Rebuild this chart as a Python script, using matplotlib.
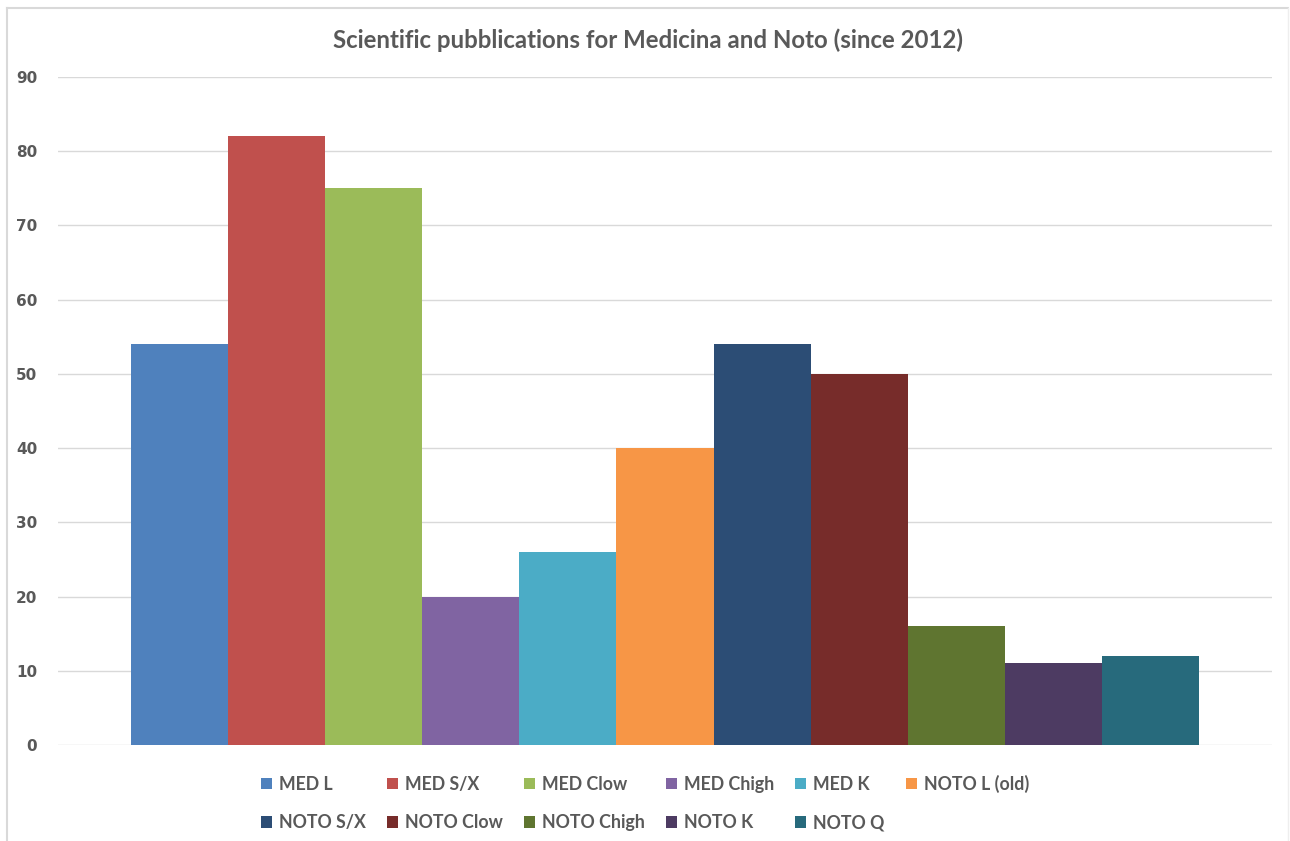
import matplotlib.pyplot as plt
from matplotlib.lines import Line2D

# data
series = ["MED L", "MED S/X", "MED Clow", "MED Chigh", "MED K", "NOTO L (old)",
          "NOTO S/X", "NOTO Clow", "NOTO Chigh", "NOTO K", "NOTO Q"]
values = [54, 82, 75, 20, 26, 40, 54, 50, 16, 11, 12]
colors = ["#4F81BD", "#C0504D", "#9BBB59", "#8064A2", "#4BACC6", "#F79646",
          "#2C4D75", "#772C2A", "#5F7530", "#4D3B62", "#276A7C"]
yticks = [0, 10, 20, 30, 40, 50, 60, 70, 80, 90]

W, H = 1290, 841
fig = plt.figure(figsize=(W / 100, H / 100), dpi=100)
ax = fig.add_axes([58 / W, 96 / H, (1272 - 58) / W, 668 / H])

bars = []
for i, (name, v, c) in enumerate(zip(series, values, colors)):
    b = ax.bar(i, v, width=1.0, color=c, label=name, zorder=3)
    bars.append(b)

ax.set_xlim(-1.25, len(series) - 1 + 1.25)
ax.set_ylim(0, 90)
ax.set_yticks(yticks)
ax.yaxis.grid(True, color="#D9D9D9", linewidth=1, zorder=0)
ax.set_xticks([])
for s in ax.spines.values():
    s.set_visible(False)
ax.tick_params(axis="y", length=0, pad=15, labelcolor="#595959")
for lbl in ax.get_yticklabels():
    lbl.set_fontfamily("DejaVu Sans")
    lbl.set_fontweight("bold")
    lbl.set_fontsize(11)

fig.text(648 / W, 1 - 40 / H, "Scientific pubblications for Medicina and Noto (since 2012)",
         ha="center", va="center", fontsize=17.3, fontweight="bold",
         family="Lato", color="#595959")

# legend: row-major order with 6 columns
order = [0, 6, 1, 7, 2, 8, 3, 9, 4, 10, 5]
leg = fig.legend([bars[i] for i in order], [series[i] for i in order],
                 ncol=6, loc="center", bbox_to_anchor=(645 / W, 1 - 803 / H),
                 frameon=False, handlelength=0.6, handleheight=0.6,
                 handletextpad=0.4, columnspacing=1.2, labelspacing=1.2,
                 prop={"family": "Lato", "weight": "bold", "size": 12.8})
for t in leg.get_texts():
    t.set_color("#595959")

# chart area border
fig.add_artist(Line2D([7 / W, 7 / W], [0, 1 - 8 / H], color="#D9D9D9", lw=1.5))
fig.add_artist(Line2D([7 / W, 1288 / W], [1 - 8 / H, 1 - 8 / H], color="#D9D9D9", lw=1.5))
fig.add_artist(Line2D([1288 / W, 1288 / W], [0, 1 - 8 / H], color="#EEEEEE", lw=1))

fig.savefig("out.png", dpi=100)
